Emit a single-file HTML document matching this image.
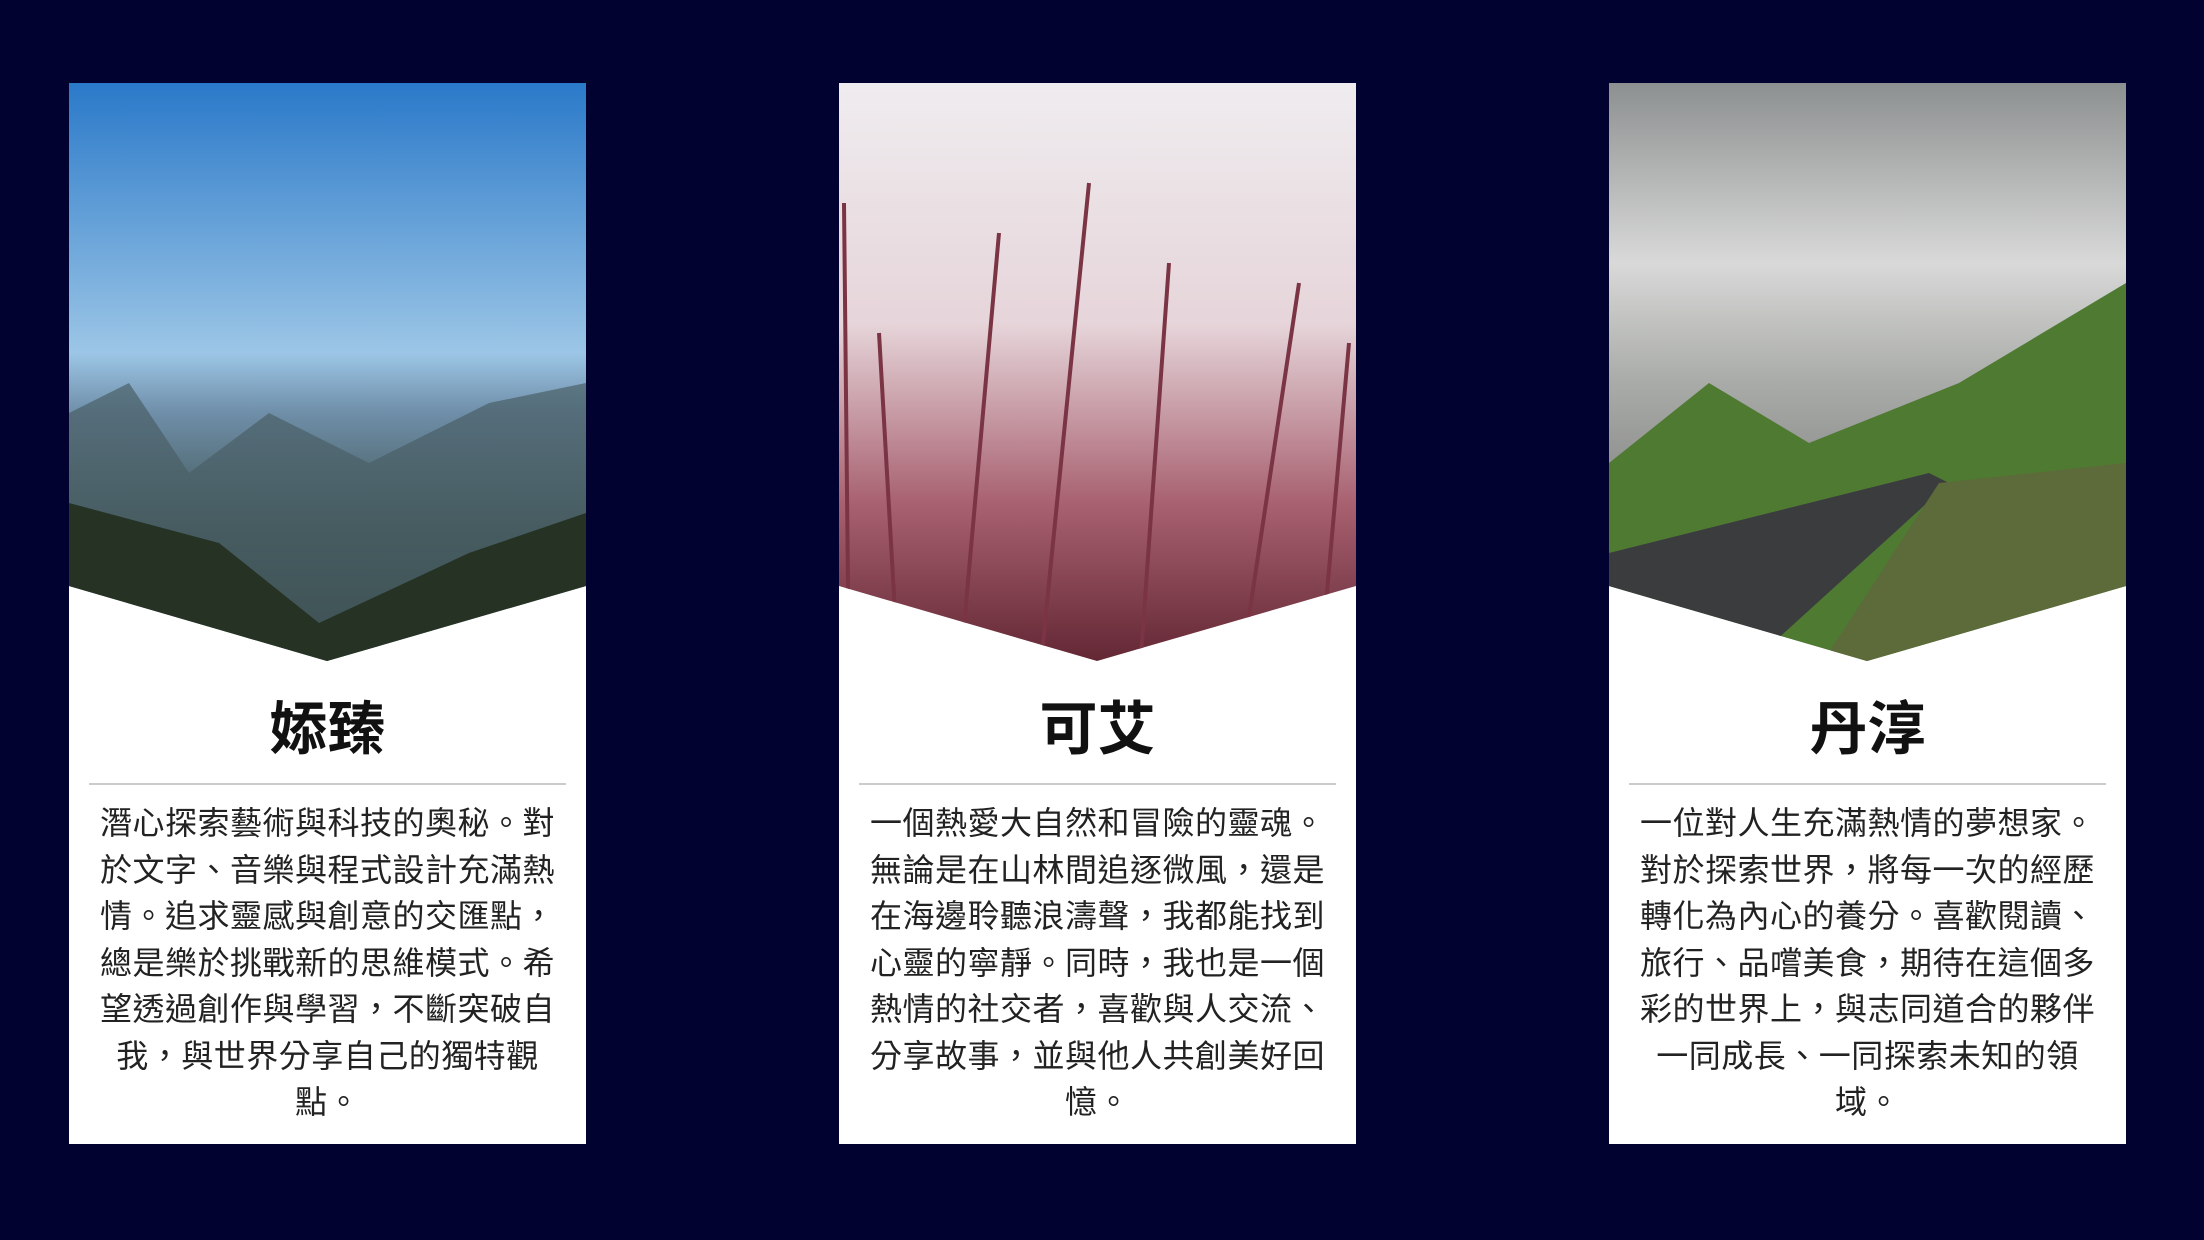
<!DOCTYPE html>
<html><head><meta charset="utf-8"><style>
body{margin:0;width:2204px;height:1240px;background:#020230;overflow:hidden;font-family:"Liberation Sans","Noto Sans CJK TC",sans-serif;}
.card{position:absolute;top:83px;width:517px;height:1061px;background:#fff;}
.card svg{position:absolute;left:0;top:0;}
.title{position:absolute;top:612px;left:0;width:100%;text-align:center;font-size:58px;font-weight:bold;color:#111;line-height:70px;}
.div{position:absolute;top:700px;left:20px;right:20px;border-top:2px solid #ccc;}
.text{position:absolute;top:717px;left:24px;right:24px;text-align:center;font-size:32px;line-height:46.5px;color:#222;letter-spacing:0.5px;}
</style></head><body>
<div class="card" style="left:69px">
<svg width="517" height="600"><defs><linearGradient id="g1" x1="0" y1="0" x2="0" y2="1"><stop offset="0" stop-color="#2a79c9"/><stop offset="0.45" stop-color="#9cc6e6"/><stop offset="0.55" stop-color="#6f8ea8"/><stop offset="0.75" stop-color="#3d5350"/><stop offset="1" stop-color="#1f2d22"/></linearGradient><clipPath id="c1"><polygon points="0,0 517,0 517,503 258,578 0,503"/></clipPath></defs>
<g clip-path="url(#c1)"><rect width="517" height="600" fill="url(#g1)"/><polygon points="0,330 60,300 120,390 200,330 300,380 420,320 517,300 517,600 0,600" fill="#4a5f66" opacity="0.7"/><polygon points="0,420 150,460 250,540 400,470 517,430 517,600 0,600" fill="#263324"/></g></svg>
<div class="div"></div>
<div class="title">婖臻</div>
<div class="text">潛心探索藝術與科技的奧秘。對於文字、音樂與程式設計充滿熱情。追求靈感與創意的交匯點，總是樂於挑戰新的思維模式。希望透過創作與學習，不斷突破自我，與世界分享自己的獨特觀點。</div>
</div>
<div class="card" style="left:839px">
<svg width="517" height="600"><defs><linearGradient id="g2" x1="0" y1="0" x2="0" y2="1"><stop offset="0" stop-color="#efecef"/><stop offset="0.4" stop-color="#e6d5da"/><stop offset="0.7" stop-color="#a86170"/><stop offset="1" stop-color="#5a1f2c"/></linearGradient><clipPath id="c2"><polygon points="0,0 517,0 517,503 258,578 0,503"/></clipPath></defs>
<g clip-path="url(#c2)"><rect width="517" height="600" fill="url(#g2)"/><g stroke="#7a3444" stroke-width="4" fill="none"><path d="M60,600 L40,250 M120,600 L160,150 M200,600 L250,100 M300,600 L330,180 M400,600 L460,200 M480,600 L510,260 M10,600 L5,120"/></g></g></svg>
<div class="div"></div>
<div class="title">可艾</div>
<div class="text">一個熱愛大自然和冒險的靈魂。無論是在山林間追逐微風，還是在海邊聆聽浪濤聲，我都能找到心靈的寧靜。同時，我也是一個熱情的社交者，喜歡與人交流、分享故事，並與他人共創美好回憶。</div>
</div>
<div class="card" style="left:1609px">
<svg width="517" height="600"><defs><linearGradient id="g3" x1="0" y1="0" x2="0" y2="1"><stop offset="0" stop-color="#8d9090"/><stop offset="0.3" stop-color="#d8d9d8"/><stop offset="0.5" stop-color="#a9aba8"/><stop offset="1" stop-color="#555"/></linearGradient><clipPath id="c3"><polygon points="0,0 517,0 517,503 258,578 0,503"/></clipPath></defs>
<g clip-path="url(#c3)"><rect width="517" height="600" fill="url(#g3)"/><polygon points="0,380 100,300 200,360 350,300 517,200 517,600 0,600" fill="#4f7a32"/><polygon points="0,470 320,390 340,400 120,600 0,600" fill="#3a3c3e"/><polygon points="330,400 517,380 517,600 200,600" fill="#5d6a3a"/></g></svg>
<div class="div"></div>
<div class="title">丹淳</div>
<div class="text">一位對人生充滿熱情的夢想家。對於探索世界，將每一次的經歷轉化為內心的養分。喜歡閱讀、旅行、品嚐美食，期待在這個多彩的世界上，與志同道合的夥伴一同成長、一同探索未知的領域。</div>
</div>
</body></html>
